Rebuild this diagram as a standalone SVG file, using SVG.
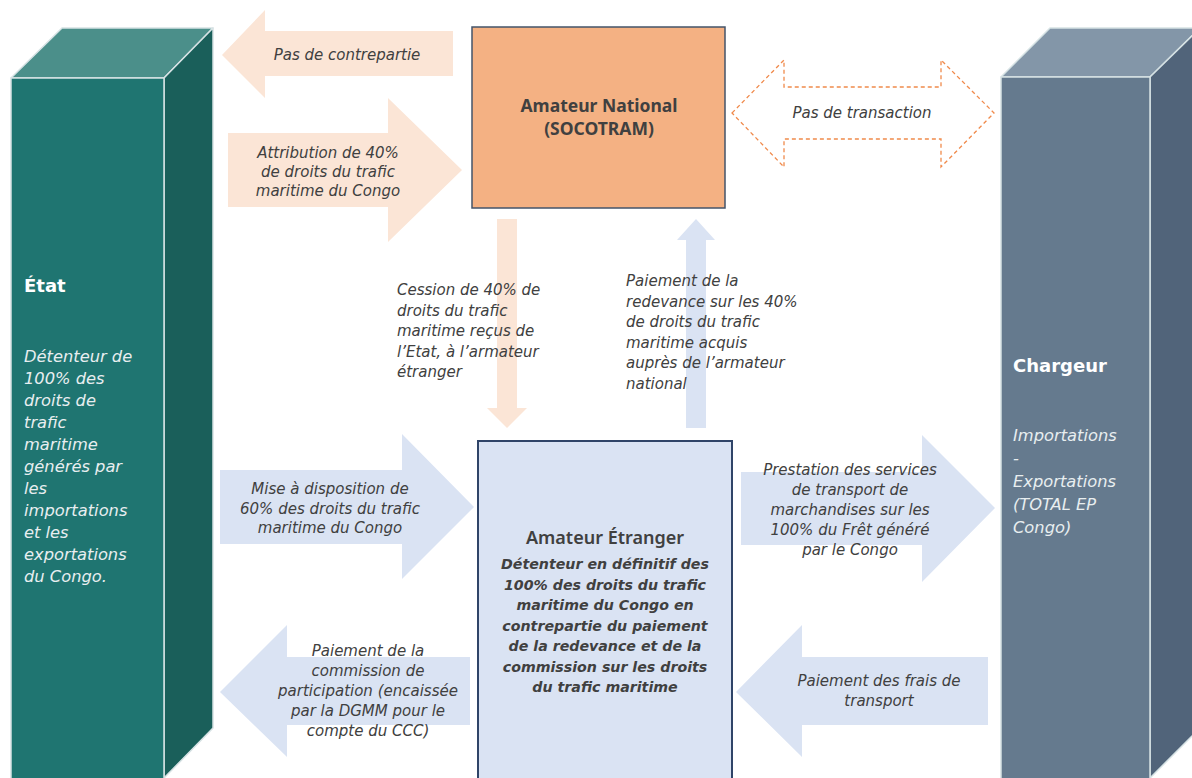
<svg xmlns="http://www.w3.org/2000/svg" width="1192" height="778" viewBox="0 0 1192 778">
<style>
.lbl{font-family:"DejaVu Sans","Noto Sans",sans-serif;font-style:italic;font-size:15px;fill:#404040;text-anchor:middle}
.lbl-l{font-family:"DejaVu Sans","Noto Sans",sans-serif;font-style:italic;font-size:15px;fill:#404040}
.peach{fill:#FBE5D6}
.blue{fill:#DAE3F3}
.edge{stroke:#D6E2E4;stroke-width:1.5;stroke-linejoin:round}
.ttl{font-family:"DejaVu Sans","Noto Sans",sans-serif;font-weight:bold;fill:#FFFFFF;font-size:18px}
.cubetxt{font-family:"DejaVu Sans","Noto Sans",sans-serif;font-style:italic;fill:#E8EEF0;font-size:16.3px}
.boxttl{font-family:"Noto Sans","Open Sans",sans-serif;font-weight:bold;fill:#404040;font-size:17.5px;text-anchor:middle}
</style>

<g id="etat">
  <polygon points="11,78 62,28 213,28 164,78" fill="#4B8F8A" class="edge"/>
  <polygon points="164,78 213,28 213,728 164,778" fill="#1A5F5A" class="edge"/>
  <rect x="11" y="78" width="153" height="710" fill="#1F7571" class="edge"/>
  <text class="ttl" x="24" y="292">État</text>
  <text class="cubetxt" x="24">
    <tspan x="24" y="362">Détenteur de</tspan>
    <tspan x="24" y="384">100% des</tspan>
    <tspan x="24" y="406">droits de</tspan>
    <tspan x="24" y="428">trafic</tspan>
    <tspan x="24" y="450">maritime</tspan>
    <tspan x="24" y="472">générés par</tspan>
    <tspan x="24" y="494">les</tspan>
    <tspan x="24" y="516">importations</tspan>
    <tspan x="24" y="538">et les</tspan>
    <tspan x="24" y="560">exportations</tspan>
    <tspan x="24" y="582">du Congo.</tspan>
  </text>
</g>

<g id="chargeur">
  <polygon points="1001,77 1050,28 1200,28 1150,77" fill="#8396A8" class="edge"/>
  <polygon points="1150,77 1200,28 1200,728 1150,778" fill="#51647A" class="edge"/>
  <rect x="1001" y="77" width="149" height="711" fill="#657A8E" class="edge"/>
  <text class="ttl" x="1013" y="372">Chargeur</text>
  <text class="cubetxt">
    <tspan x="1013" y="441">Importations</tspan>
    <tspan x="1013" y="464">-</tspan>
    <tspan x="1013" y="487">Exportations</tspan>
    <tspan x="1013" y="510">(TOTAL EP</tspan>
    <tspan x="1013" y="533">Congo)</tspan>
  </text>
</g>

<g id="connectors">
  <g id="pas-contrepartie">
    <polygon class="peach" points="222,55 265,10 265,31 453,31 453,76 265,76 265,98"/>
    <text class="lbl" x="347" y="60">Pas de contrepartie</text>
  </g>
  <g id="attribution">
    <polygon class="peach" points="228,133 388,133 388,98 462,170 388,242 388,207 228,207"/>
    <text class="lbl"><tspan x="328" y="158">Attribution de 40%</tspan><tspan x="328" y="177">de droits du trafic</tspan><tspan x="328" y="196">maritime du Congo</tspan></text>
  </g>
  <g id="pas-transaction">
    <polygon points="732,113 784,60 784,87 941,87 941,60 994,113 941,167 941,139 784,139 784,167" fill="#FFFFFF" stroke="#F08A4B" stroke-width="1.3" stroke-dasharray="4 3"/>
    <text class="lbl" x="862" y="118">Pas de transaction</text>
  </g>
  <g id="cession">
    <polygon class="peach" points="497,219 517,219 517,408 527,408 507,428 487,408 497,408"/>
    <text class="lbl-l"><tspan x="397" y="295">Cession de 40% de</tspan><tspan x="397" y="315.5">droits du trafic</tspan><tspan x="397" y="336">maritime reçus de</tspan><tspan x="397" y="356.5">l’Etat, à l’armateur</tspan><tspan x="397" y="377">étranger</tspan></text>
  </g>
  <g id="paiement-redevance">
    <polygon class="blue" points="696,219 715,240 706,240 706,428 686,428 686,240 677,240"/>
    <text class="lbl-l"><tspan x="626" y="286">Paiement de la</tspan><tspan x="626" y="306.5">redevance sur les 40%</tspan><tspan x="626" y="327">de droits du trafic</tspan><tspan x="626" y="347.5">maritime acquis</tspan><tspan x="626" y="368">auprès de l’armateur</tspan><tspan x="626" y="388.5">national</tspan></text>
  </g>
  <g id="mise-disposition">
    <polygon class="blue" points="220,470 402,470 402,434 474,507 402,579 402,544 220,544"/>
    <text class="lbl"><tspan x="330" y="494">Mise à disposition de</tspan><tspan x="330" y="513.5">60% des droits du trafic</tspan><tspan x="330" y="533">maritime du Congo</tspan></text>
  </g>
  <g id="prestation">
    <polygon class="blue" points="741,472 922,472 922,435 995,508 922,582 922,545 741,545"/>
    <text class="lbl"><tspan x="850" y="475">Prestation des services</tspan><tspan x="850" y="495">de transport de</tspan><tspan x="850" y="515">marchandises sur les</tspan><tspan x="850" y="535">100% du Frêt généré</tspan><tspan x="850" y="555">par le Congo</tspan></text>
  </g>
  <g id="commission">
    <polygon class="blue" points="220,692 287,625 287,657 470,657 470,725 287,725 287,757"/>
    <text class="lbl"><tspan x="368" y="656">Paiement de la</tspan><tspan x="368" y="676">commission de</tspan><tspan x="368" y="696">participation (encaissée</tspan><tspan x="368" y="716">par la DGMM pour le</tspan><tspan x="368" y="736">compte du CCC)</tspan></text>
  </g>
  <g id="frais">
    <polygon class="blue" points="736,692 802,625 802,657 988,657 988,725 802,725 802,757"/>
    <text class="lbl"><tspan x="879" y="686">Paiement des frais de</tspan><tspan x="879" y="706">transport</tspan></text>
  </g>
</g>

<g id="amateur-national">
  <rect x="472" y="27" width="253" height="181" fill="#F4B183" stroke="#44546A" stroke-width="1.5"/>
  <text class="boxttl"><tspan x="599" y="112">Amateur National</tspan><tspan x="599" y="135">(SOCOTRAM)</tspan></text>
</g>

<g id="amateur-etranger">
  <rect x="478" y="441" width="254" height="345" fill="#DAE3F3" stroke="#2F4468" stroke-width="2"/>
  <text class="boxttl" x="605" y="544" style="font-size:18px;font-weight:600">Amateur Étranger</text>
  <text class="lbl" style="font-weight:bold;font-size:14.2px"><tspan x="605" y="569">Détenteur en définitif des</tspan><tspan x="605" y="589.5">100% des droits du trafic</tspan><tspan x="605" y="610">maritime du Congo en</tspan><tspan x="605" y="630.5">contrepartie du paiement</tspan><tspan x="605" y="651">de la redevance et de la</tspan><tspan x="605" y="671.5">commission sur les droits</tspan><tspan x="605" y="692">du trafic maritime</tspan></text>
</g>
</svg>
